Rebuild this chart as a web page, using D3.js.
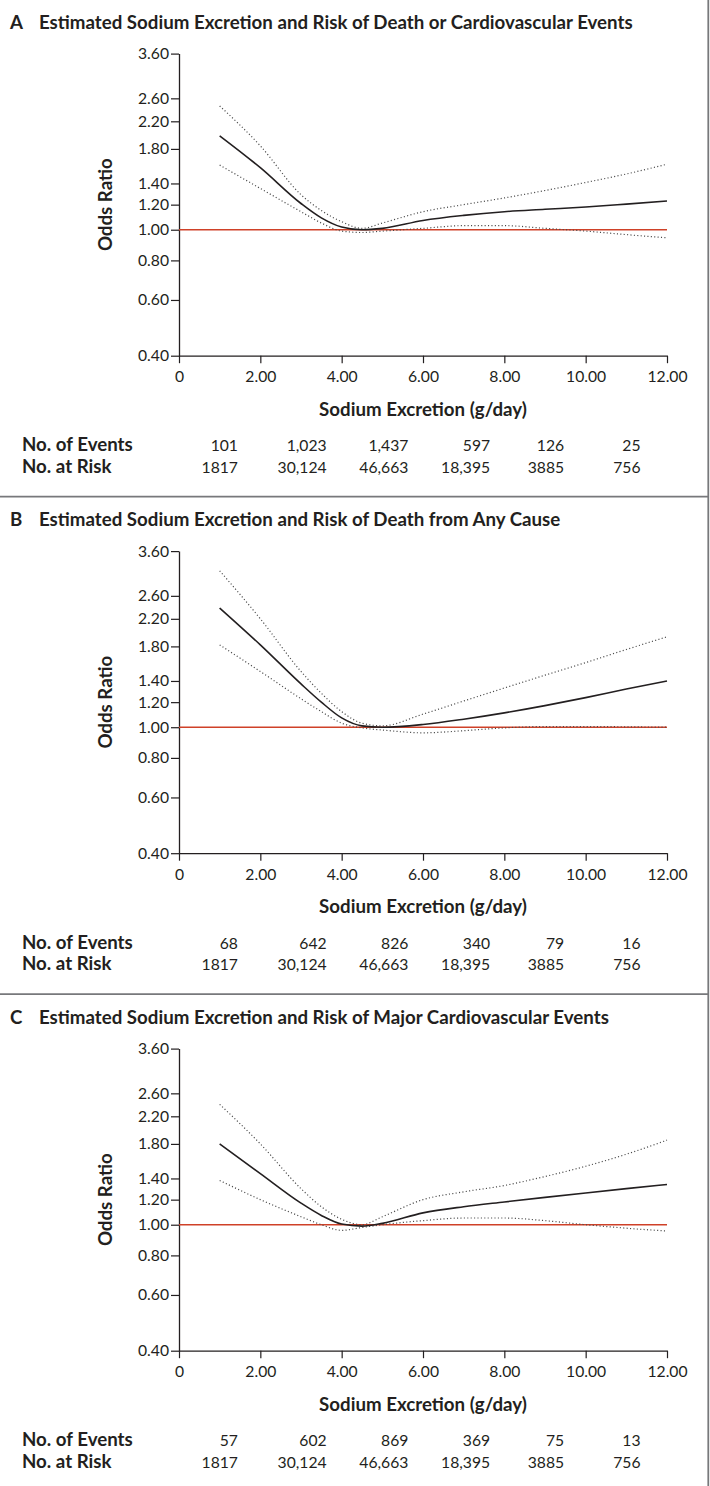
<!DOCTYPE html>
<html>
<head>
<meta charset="utf-8">
<script src="https://cdn.jsdelivr.net/npm/d3@7.9.0/dist/d3.min.js"></script>
<style>
  html, body { margin: 0; padding: 0; background: #fff; }
  svg { display: block; }
  text { font-family: Lato, "Open Sans", sans-serif; fill: #231f20; }
</style>
</head>
<body>
<svg id="chart" width="710" height="1486"></svg>
<script>
// ---- data ----
const letters = ['A', 'B', 'C'];
const titles = [
    'Estimated Sodium Excretion and Risk of Death or Cardiovascular Events',
    'Estimated Sodium Excretion and Risk of Death from Any Cause',
    'Estimated Sodium Excretion and Risk of Major Cardiovascular Events'
];
const sodium = [1, 2, 3, 3.5, 4, 4.5, 5, 6, 7, 8, 9, 10, 11, 12];

const orA = [1.98, 1.57, 1.21, 1.09, 1.02, 1.0, 1.01, 1.07, 1.11, 1.14, 1.16, 1.18, 1.205, 1.232];
const hiA = [2.46, 1.84, 1.29, 1.15, 1.06, 1.01, 1.05, 1.14, 1.20, 1.26, 1.33, 1.41, 1.50, 1.61];
const loA = [1.60, 1.35, 1.14, 1.05, 0.99, 0.98, 0.99, 1.01, 1.03, 1.03, 1.01, 0.99, 0.965, 0.943];

const orB = [2.38, 1.82, 1.37, 1.20, 1.07, 1.01, 1.0, 1.02, 1.06, 1.11, 1.17, 1.24, 1.32, 1.40];
const hiB = [3.12, 2.20, 1.50, 1.28, 1.12, 1.03, 1.01, 1.10, 1.21, 1.33, 1.46, 1.60, 1.76, 1.93];
const loB = [1.82, 1.50, 1.23, 1.12, 1.03, 0.995, 0.98, 0.96, 0.975, 0.995, 1.005, 1.005, 1.003, 1.0];

const orC = [1.80, 1.45, 1.17, 1.07, 1.005, 0.99, 1.01, 1.09, 1.14, 1.18, 1.22, 1.26, 1.30, 1.34];
const hiC = [2.40, 1.80, 1.30, 1.14, 1.04, 1.0, 1.06, 1.20, 1.27, 1.33, 1.42, 1.53, 1.67, 1.85];
const loC = [1.38, 1.20, 1.06, 1.0, 0.96, 0.98, 1.0, 1.03, 1.05, 1.05, 1.03, 1.0, 0.975, 0.955];

const eventsA = ['101', '1,023', '1,437', '597', '126', '25'];
const eventsB = ['68', '642', '826', '340', '79', '16'];
const eventsC = ['57', '602', '869', '369', '75', '13'];
const atRisk = ['1817', '30,124', '46,663', '18,395', '3885', '756'];

const yTicks = [0.4, 0.6, 0.8, 1.0, 1.2, 1.4, 1.8, 2.2, 2.6, 3.6];
const xTicks = [0, 2, 4, 6, 8, 10, 12];

const panels = [
    { or: orA, hi: hiA, lo: loA, events: eventsA },
    { or: orB, hi: hiB, lo: loB, events: eventsB },
    { or: orC, hi: hiC, lo: loC, events: eventsC }
];

// ---- layout ----
const panelH = 497.5;
const ink = '#231f20';
const red = '#cf4128';
const frame = '#77787b';
const boldSize = 18.7;
const numSize = 15.7;
// right edges of the count columns, in g/day units
const colAnchor = [1.45, 3.63, 5.64, 7.65, 9.47, 11.35];

const svg = d3.select('#chart');

const x = d3.scaleLinear().domain([0, 12]).range([179, 667]);
const y = d3.scaleLog().domain([0.4, 3.6]).range([355.7, 53.6]);

const line = d3.line()
    .x((d) => x(d[0]))
    .y((d) => y(d[1]))
    .curve(d3.curveMonotoneX);

// frame
svg.append('line')
    .attr('x1', 708.3).attr('x2', 708.3)
    .attr('y1', 0).attr('y2', 1486)
    .attr('stroke', frame).attr('stroke-width', 1.8);

panels.forEach((p, i) => {
    const g = svg.append('g').attr('transform', `translate(0,${i * panelH})`);

    if (i > 0) {
        g.append('line')
            .attr('x1', 0).attr('x2', 709)
            .attr('y1', -0.8).attr('y2', -0.8)
            .attr('stroke', frame).attr('stroke-width', 1.8);
    }

    // title
    g.append('text')
        .attr('x', 10).attr('y', 28.5)
        .attr('font-size', boldSize).attr('font-weight', 700)
        .text(letters[i]);
    g.append('text')
        .attr('x', 39).attr('y', 28.5)
        .attr('font-size', boldSize).attr('font-weight', 700)
        .text(titles[i]);

    // axes
    const yAxis = g.append('g')
        .attr('transform', `translate(${x(0)},0)`)
        .call(d3.axisLeft(y).tickValues(yTicks).tickFormat(d3.format('.2f'))
            .tickSize(8).tickSizeOuter(0).tickPadding(2));
    const xAxis = g.append('g')
        .attr('transform', `translate(0,${y(0.4)})`)
        .call(d3.axisBottom(x).tickValues(xTicks)
            .tickFormat((d) => d === 0 ? '0' : d3.format('.2f')(d))
            .tickSize(7.5).tickSizeOuter(0).tickPadding(8));

    [yAxis, xAxis].forEach((a) => {
        a.select('.domain').attr('stroke', ink).attr('stroke-width', 1.3);
        a.selectAll('.tick line').attr('stroke', ink).attr('stroke-width', 1.2);
        a.selectAll('.tick text')
            .attr('font-family', 'Lato, sans-serif')
            .attr('font-size', numSize)
            .attr('fill', ink);
    });

    g.append('text')
        .attr('transform', `translate(112,${(y(0.4) + y(3.6)) / 2}) rotate(-90)`)
        .attr('text-anchor', 'middle')
        .attr('font-size', boldSize).attr('font-weight', 700)
        .text('Odds Ratio');

    g.append('text')
        .attr('x', x(6)).attr('y', y(0.4) + 60)
        .attr('text-anchor', 'middle')
        .attr('font-size', boldSize).attr('font-weight', 700)
        .text('Sodium Excretion (g/day)');

    // reference line
    g.append('line')
        .attr('x1', x(0)).attr('x2', x(12))
        .attr('y1', y(1)).attr('y2', y(1))
        .attr('stroke', red).attr('stroke-width', 1.5);

    // confidence bands (dotted) and estimate
    [p.hi, p.lo].forEach((s) => {
        g.append('path')
            .attr('d', line(sodium.map((v, k) => [v, s[k]])))
            .attr('fill', 'none')
            .attr('stroke', '#4a4a4a')
            .attr('stroke-width', 1.2)
            .attr('stroke-dasharray', '1.1,2.3');
    });
    g.append('path')
        .attr('d', line(sodium.map((v, k) => [v, p.or[k]])))
        .attr('fill', 'none')
        .attr('stroke', ink)
        .attr('stroke-width', 1.6);

    // counts table
    const rows = [
        { label: 'No. of Events', values: p.events, dy: 95.5 },
        { label: 'No. at Risk', values: atRisk, dy: 117 }
    ];
    rows.forEach((r) => {
        const base = y(0.4) + r.dy;
        g.append('text')
            .attr('x', 22).attr('y', base)
            .attr('font-size', boldSize).attr('font-weight', 700)
            .text(r.label);
        r.values.forEach((v, k) => {
            g.append('text')
                .attr('x', x(colAnchor[k])).attr('y', base)
                .attr('text-anchor', 'end')
                .attr('font-size', numSize)
                .text(v);
        });
    });
});
</script>
</body>
</html>
